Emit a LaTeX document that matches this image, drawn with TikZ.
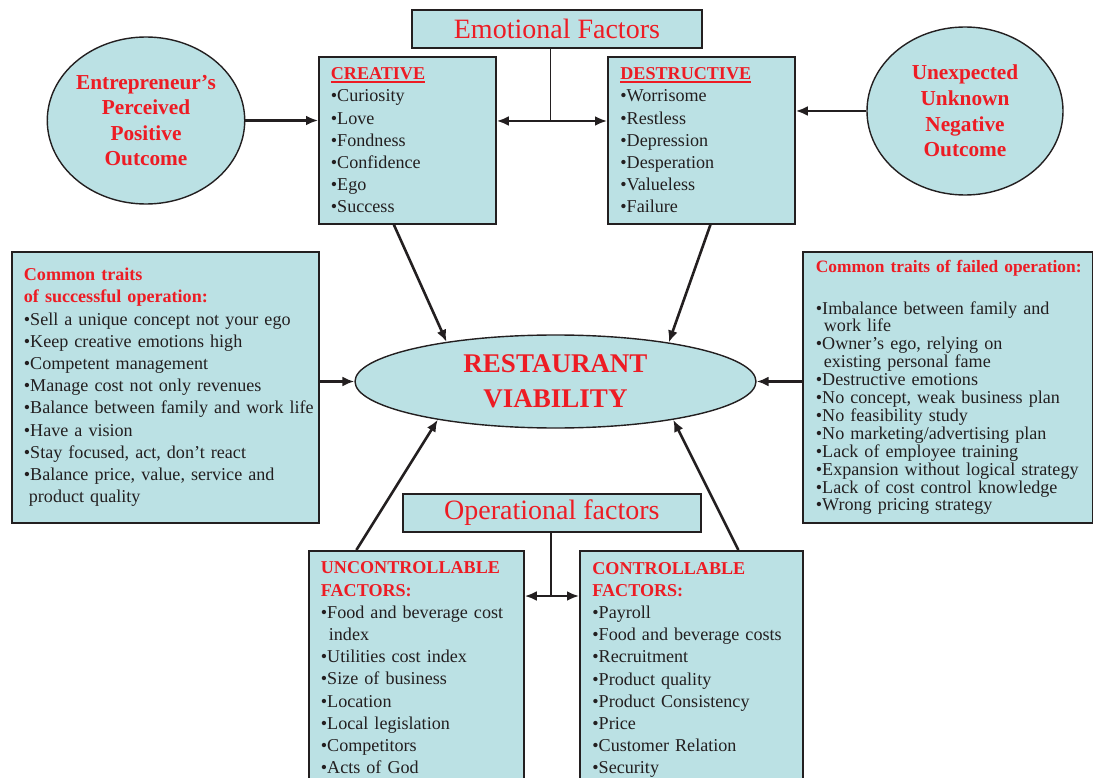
\documentclass[tikz,border=0pt]{standalone}
\usepackage{fontspec}
\setmainfont{Liberation Serif}
\usepackage{xcolor}
\usetikzlibrary{shapes,arrows.meta}
\definecolor{boxfill}{RGB}{187,225,228}
\definecolor{redtxt}{RGB}{237,28,36}
\definecolor{inkline}{RGB}{35,31,32}
\newcommand{\redhead}[1]{{\color{redtxt}\bfseries #1}}
\newcommand{\headul}[1]{\setbox0\hbox{#1}\rlap{\rule[-3.5pt]{\wd0}{2.2pt}}\box0}

\begin{document}
\begin{tikzpicture}[x=1pt, y=-1pt,
  factorbox/.style={draw=inkline, line width=1.8pt, fill=boxfill, anchor=north west, align=left, inner xsep=12pt, inner ysep=0pt, text=inkline, font=\fontsize{18.1}{22.2}\selectfont},
  titlebox/.style={draw=inkline, line width=1.8pt, fill=boxfill, anchor=north west, inner sep=0pt, text=redtxt, font=\fontsize{28}{30}\selectfont},
  outcome/.style={ellipse, draw=inkline, line width=1.4pt, fill=boxfill, inner sep=0pt, align=center, text=redtxt, font=\fontsize{21.3}{25.6}\selectfont\bfseries},
  arr/.style={-{Latex[length=12pt,width=10pt]}, line width=2.6pt, draw=inkline},
  dblarr/.style={{Latex[length=12pt,width=10pt]}-{Latex[length=12pt,width=10pt]}, line width=2.6pt, draw=inkline},
  link/.style={line width=1.5pt, draw=inkline}]
\path[use as bounding box, clip] (0,0) rectangle (1093,778);
% emotional factors
\node[titlebox, minimum width=290pt, minimum height=38pt] (emo) at (411,9) {Emotional Factors};
\node[factorbox, text width=153pt, minimum height=167pt] (creative) at (318,56) {\redhead{\headul{CREATIVE}}\\•Curiosity\\•Love\\•Fondness\\•Confidence\\•Ego\\•Success};
\node[factorbox, inner xsep=12.5pt, text width=162pt, minimum height=167pt] (destr) at (607,56) {\redhead{\headul{DESTRUCTIVE}}\\•Worrisome\\•Restless\\•Depression\\•Desperation\\•Valueless\\•Failure};
\node[outcome, minimum width=196pt, minimum height=167pt] (entre) at (146,120.5) {Entrepreneur’s\\Perceived\\Positive\\Outcome};
\node[outcome, minimum width=196pt, minimum height=168pt] (unexp) at (965,111) {Unexpected\\Unknown\\Negative\\Outcome};
\coordinate (emojoin) at (550.5,121);
% centre
\node[outcome, minimum width=401pt, minimum height=93pt, font=\fontsize{27}{35}\selectfont\bfseries] (viab) at (555.5,381.5) {RESTAURANT\\VIABILITY};
\node[factorbox, text width=283pt, minimum height=271pt] (succ) at (11,251) {\redhead{Common traits}\\\redhead{of successful operation:}\\•Sell a unique concept not your ego\\•Keep creative emotions high\\•Competent management\\•Manage cost not only revenues\\\mbox{•Balance between family and work life}\\•Have a vision\\•Stay focused, act, don’t react\\•Balance price, value, service and\\\hspace*{5pt}product quality};
\node[factorbox, inner xsep=13pt, text width=264pt, minimum height=271pt, font=\fontsize{18.1}{17.9}\selectfont] (failed) at (802,251) {\mbox{\fontsize{17.4}{17.9}\selectfont\redhead{Common traits of failed operation:}}\\[24pt]•Imbalance between family and\\\hspace*{8pt}work life\\•Owner’s ego, relying on\\\hspace*{8pt}existing personal fame\\•Destructive emotions\\•No concept, weak business plan\\•No feasibility study\\•No marketing/advertising plan\\•Lack of employee training\\\mbox{•Expansion without logical strategy}\\•Lack of cost control knowledge\\•Wrong pricing strategy};
% operational factors
\node[titlebox, minimum width=298pt, minimum height=38pt] (oper) at (402,493) {Operational factors};
\node[factorbox, text width=191pt, minimum height=234pt] (unctrl) at (308,550) {\redhead{UNCONTROLLABLE}\\\redhead{FACTORS:}\\•Food and beverage cost\\\hspace*{8pt}index\\•Utilities cost index\\•Size of business\\•Location\\•Local legislation\\•Competitors\\•Acts of God};
\node[factorbox, inner xsep=12.5pt, text width=198pt, minimum height=238pt] (ctrl) at (579,550) {\redhead{CONTROLLABLE}\\\redhead{FACTORS:}\\•Payroll\\•Food and beverage costs\\•Recruitment\\•Product quality\\•Product Consistency\\•Price\\•Customer Relation\\•Security};
\coordinate (opjoin) at (551,596);

\draw [link] (emo.south -| emojoin) -- (emojoin);
\draw [dblarr] (creative.east |- emojoin) -- (destr.west |- emojoin);
\draw [arr] (entre.east) -- (creative.west |- entre.east);
\draw [arr] (unexp.west) -- (destr.east |- unexp.west);
\draw [arr] ([xshift=-13.5pt]creative.south) -- (viab.160);
\draw [arr] ([xshift=9pt]destr.south) -- (viab.19);
\draw [arr] (succ.east |- viab.west) -- (viab.west);
\draw [arr] (failed.west |- viab.east) -- (viab.east);
\draw [arr] ([xshift=-60pt]unctrl.north) -- (viab.198);
\draw [arr] ([xshift=47pt]ctrl.north) -- (viab.342);
\draw [link] (oper.south -| opjoin) -- (opjoin);
\draw [dblarr] (unctrl.east |- opjoin) -- (ctrl.west |- opjoin);
\end{tikzpicture}
\end{document}
